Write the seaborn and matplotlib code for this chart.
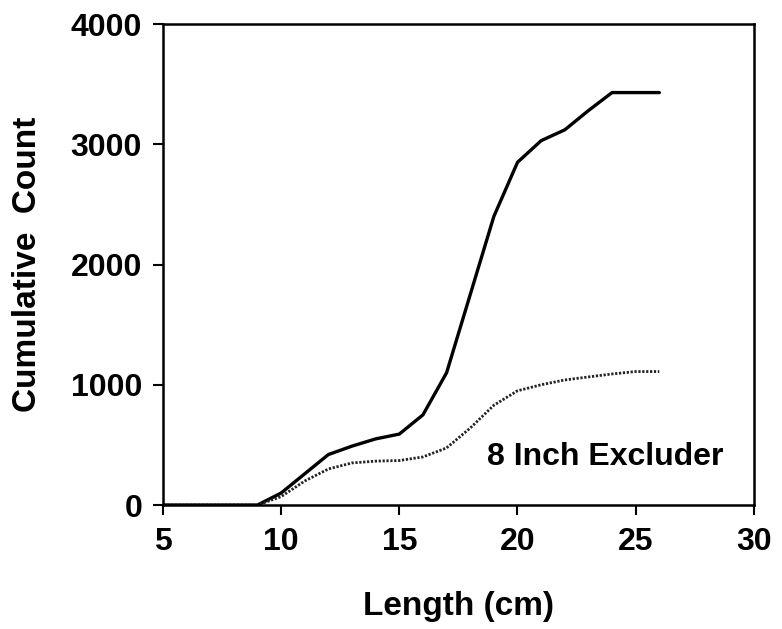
import matplotlib
matplotlib.use("Agg")
import matplotlib.pyplot as plt
import seaborn as sns
import pandas as pd

length_cm = [5, 6, 7, 8, 9, 10, 11, 12, 13, 14, 15, 16, 17, 18, 19, 20, 21, 22, 23, 24, 25, 26]
total_count = [0, 0, 0, 0, 0, 100, 260, 420, 490, 550, 590, 750, 1100, 1750, 2400, 2850, 3030, 3120, 3280, 3430, 3430, 3430]
excluder_count = [0, 0, 0, 0, 0, 70, 200, 300, 350, 365, 370, 400, 475, 640, 830, 950, 1000, 1040, 1065, 1090, 1110, 1110]

x_ticks = [5, 10, 15, 20, 25, 30]
y_ticks = [0, 1000, 2000, 3000, 4000]
annotation = "8 Inch Excluder"

sns.set_theme(style="ticks")
plt.rcParams['font.family'] = ['Liberation Sans', 'DejaVu Sans']
plt.rcParams['font.weight'] = 'bold'
plt.rcParams['text.color'] = 'black'
plt.rcParams['axes.labelcolor'] = 'black'
plt.rcParams['xtick.color'] = 'black'
plt.rcParams['ytick.color'] = 'black'

df = pd.DataFrame({"Length": length_cm, "Total": total_count, "Excluder": excluder_count})

fig = plt.figure(figsize=(7.82, 6.29), dpi=100)
ax = fig.add_axes([0.2084, 0.1971, 0.7556, 0.7647])

sns.lineplot(data=df, x="Length", y="Total", ax=ax, color="black", linewidth=2.4)
sns.lineplot(data=df, x="Length", y="Excluder", ax=ax, color="#222222",
             linewidth=2.0, linestyle=(0, (0.8, 0.6)))

ax.set_xlim(5, 30)
ax.set_ylim(0, 4000)
ax.set_xticks(x_ticks)
ax.set_yticks(y_ticks)
ax.set_xticklabels([str(t) for t in x_ticks], fontsize=23, fontweight='bold')
ax.set_yticklabels([str(t) for t in y_ticks], fontsize=23, fontweight='bold')
ax.tick_params(axis='both', direction='out', length=7, width=1.5, color='black',
               labelcolor='black')
ax.tick_params(axis='x', pad=9)
ax.tick_params(axis='y', pad=8)

for s in ax.spines.values():
    s.set_visible(True)
    s.set_color('black')
    s.set_linewidth(1.8)

ax.set_xlabel("Length (cm)", fontsize=24, fontweight='bold', labelpad=24, color='black')
ax.set_ylabel("Cumulative  Count", fontsize=24, fontweight='bold', labelpad=20, color='black')

ax.text(23.7, 400, annotation, fontsize=23, fontweight='bold', ha='center', va='center',
        color='black')

fig.savefig("out.png", dpi=100)
